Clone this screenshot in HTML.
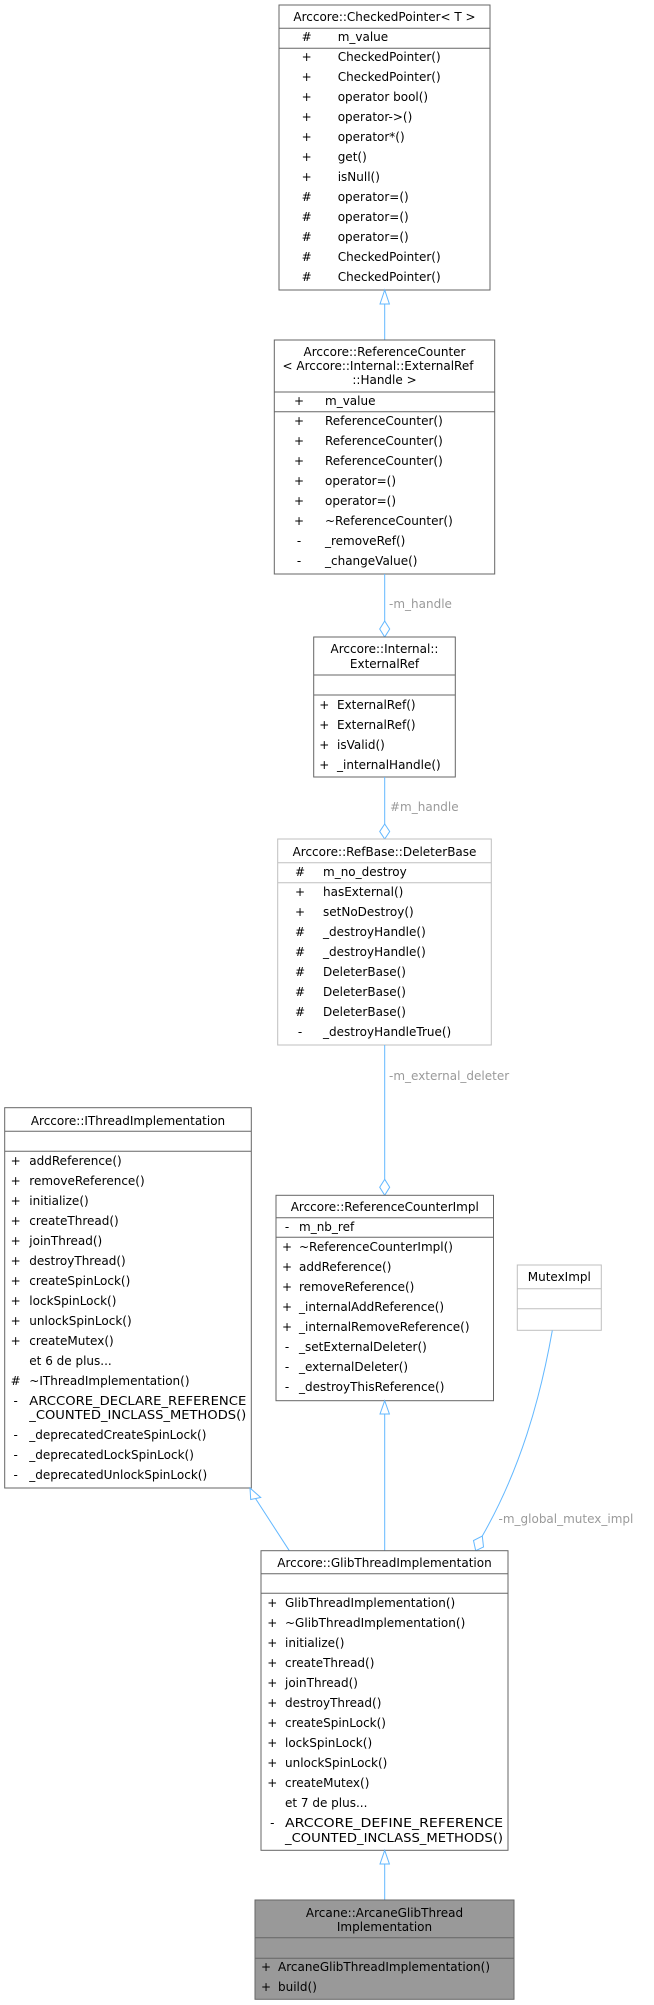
<!DOCTYPE html>
<html><head><meta charset="utf-8">
<style>
html,body{margin:0;padding:0;background:#fff;}
svg{display:block;}
text{font-family:"DejaVu Sans","Liberation Sans",sans-serif;font-size:12px;fill:#000;}
.lbl{fill:#9a9a9a;}
.b{fill:#fff;stroke:#666;stroke-width:1;}
.lb{fill:#fff;stroke:#bfbfbf;stroke-width:1;}
.s{stroke:#666;stroke-width:1;}
.ls{stroke:#bfbfbf;stroke-width:1;}
.e{stroke:#63b8ff;stroke-width:1;fill:none;}
.ah{stroke:#63b8ff;stroke-width:1;fill:#fff;}
.m{text-anchor:middle;}
</style></head>
<body>
<svg width="654" height="2005" viewBox="0 0 654 2005" xmlns="http://www.w3.org/2000/svg">

<!-- CheckedPointer -->
<rect class="b" x="279" y="5" width="211" height="285"/>
<line class="s" x1="279" y1="28.3" x2="490" y2="28.3"/>
<line class="s" x1="279" y1="48.3" x2="490" y2="48.3"/>
<text class="m" x="384.5" y="21">Arccore::CheckedPointer&lt; T &gt;</text>
<g>
<text class="m" x="306.7" y="41">#</text><text x="337.7" y="41">m_value</text>
<text class="m" x="306.7" y="61">+</text><text x="337.7" y="61">CheckedPointer()</text>
<text class="m" x="306.7" y="81">+</text><text x="337.7" y="81">CheckedPointer()</text>
<text class="m" x="306.7" y="101">+</text><text x="337.7" y="101">operator bool()</text>
<text class="m" x="306.7" y="121">+</text><text x="337.7" y="121">operator-&gt;()</text>
<text class="m" x="306.7" y="141">+</text><text x="337.7" y="141">operator*()</text>
<text class="m" x="306.7" y="161">+</text><text x="337.7" y="161">get()</text>
<text class="m" x="306.7" y="181">+</text><text x="337.7" y="181">isNull()</text>
<text class="m" x="306.7" y="201">#</text><text x="337.7" y="201">operator=()</text>
<text class="m" x="306.7" y="221">#</text><text x="337.7" y="221">operator=()</text>
<text class="m" x="306.7" y="241">#</text><text x="337.7" y="241">operator=()</text>
<text class="m" x="306.7" y="261">#</text><text x="337.7" y="261">CheckedPointer()</text>
<text class="m" x="306.7" y="281">#</text><text x="337.7" y="281">CheckedPointer()</text>
</g>

<!-- edge CP -> RC -->
<line class="e" x1="384.7" y1="304" x2="384.7" y2="340"/>
<polygon class="ah" points="384.7,290 380,304 389.4,304"/>

<!-- ReferenceCounter -->
<rect class="b" x="274.3" y="340" width="220.4" height="234"/>
<line class="s" x1="274.3" y1="392" x2="494.7" y2="392"/>
<line class="s" x1="274.3" y1="411.7" x2="494.7" y2="411.7"/>
<text class="m" x="384.5" y="356">Arccore::ReferenceCounter</text>
<text x="282.5" y="370">&lt; Arccore::Internal::ExternalRef</text>
<text class="m" x="384.5" y="384">::Handle &gt;</text>
<text class="m" x="299" y="405">+</text><text x="325" y="405">m_value</text>
<text class="m" x="299" y="425">+</text><text x="325" y="425">ReferenceCounter()</text>
<text class="m" x="299" y="445">+</text><text x="325" y="445">ReferenceCounter()</text>
<text class="m" x="299" y="465">+</text><text x="325" y="465">ReferenceCounter()</text>
<text class="m" x="299" y="485">+</text><text x="325" y="485">operator=()</text>
<text class="m" x="299" y="505">+</text><text x="325" y="505">operator=()</text>
<text class="m" x="299" y="525">+</text><text x="325" y="525">~ReferenceCounter()</text>
<text class="m" x="299" y="545">-</text><text x="325" y="545">_removeRef()</text>
<text class="m" x="299" y="565">-</text><text x="325" y="565">_changeValue()</text>

<!-- edge ExternalRef -> RC (m_handle) -->
<line class="e" x1="384.7" y1="574" x2="384.7" y2="621"/>
<polygon class="ah" points="384.7,621 389.7,629 384.7,637 379.7,629"/>
<text class="lbl" x="389" y="608">-m_handle</text>

<!-- ExternalRef -->
<rect class="b" x="313.7" y="637" width="141.6" height="140"/>
<line class="s" x1="313.7" y1="675" x2="455.3" y2="675"/>
<line class="s" x1="313.7" y1="695" x2="455.3" y2="695"/>
<text class="m" x="384.5" y="653">Arccore::Internal::</text>
<text class="m" x="384.5" y="668">ExternalRef</text>
<text class="m" x="324.3" y="709">+</text><text x="337" y="709">ExternalRef()</text>
<text class="m" x="324.3" y="729">+</text><text x="337" y="729">ExternalRef()</text>
<text class="m" x="324.3" y="749">+</text><text x="337" y="749">isValid()</text>
<text class="m" x="324.3" y="769">+</text><text x="337" y="769">_internalHandle()</text>

<!-- edge DeleterBase -> ExternalRef (#m_handle) -->
<line class="e" x1="384.7" y1="777" x2="384.7" y2="824"/>
<polygon class="ah" points="384.7,824 389.7,831.5 384.7,839 379.7,831.5"/>
<text class="lbl" x="390" y="811">#m_handle</text>

<!-- DeleterBase -->
<rect class="lb" x="277.7" y="839" width="213.6" height="206"/>
<line class="ls" x1="277.7" y1="862.7" x2="491.3" y2="862.7"/>
<line class="ls" x1="277.7" y1="882.7" x2="491.3" y2="882.7"/>
<text class="m" x="384.5" y="856">Arccore::RefBase::DeleterBase</text>
<text class="m" x="300" y="876">#</text><text x="323" y="876">m_no_destroy</text>
<text class="m" x="300" y="896">+</text><text x="323" y="896">hasExternal()</text>
<text class="m" x="300" y="916">+</text><text x="323" y="916">setNoDestroy()</text>
<text class="m" x="300" y="936">#</text><text x="323" y="936">_destroyHandle()</text>
<text class="m" x="300" y="956">#</text><text x="323" y="956">_destroyHandle()</text>
<text class="m" x="300" y="976">#</text><text x="323" y="976">DeleterBase()</text>
<text class="m" x="300" y="996">#</text><text x="323" y="996">DeleterBase()</text>
<text class="m" x="300" y="1016">#</text><text x="323" y="1016">DeleterBase()</text>
<text class="m" x="300" y="1036">-</text><text x="323" y="1036">_destroyHandleTrue()</text>

<!-- edge RCImpl -> DeleterBase -->
<line class="e" x1="384.7" y1="1045" x2="384.7" y2="1179.3"/>
<polygon class="ah" points="384.7,1179.3 389.7,1187.2 384.7,1195.3 379.7,1187.2"/>
<text class="lbl" x="389" y="1080">-m_external_deleter</text>

<!-- IThreadImplementation -->
<rect class="b" x="4.7" y="1107.7" width="246.6" height="380.3"/>
<line class="s" x1="4.7" y1="1131.3" x2="251.3" y2="1131.3"/>
<line class="s" x1="4.7" y1="1151.3" x2="251.3" y2="1151.3"/>
<text class="m" x="128" y="1125">Arccore::IThreadImplementation</text>
<text class="m" x="15.7" y="1165">+</text><text x="29.3" y="1165">addReference()</text>
<text class="m" x="15.7" y="1185">+</text><text x="29.3" y="1185">removeReference()</text>
<text class="m" x="15.7" y="1205">+</text><text x="29.3" y="1205">initialize()</text>
<text class="m" x="15.7" y="1225">+</text><text x="29.3" y="1225">createThread()</text>
<text class="m" x="15.7" y="1245">+</text><text x="29.3" y="1245">joinThread()</text>
<text class="m" x="15.7" y="1265">+</text><text x="29.3" y="1265">destroyThread()</text>
<text class="m" x="15.7" y="1285">+</text><text x="29.3" y="1285">createSpinLock()</text>
<text class="m" x="15.7" y="1305">+</text><text x="29.3" y="1305">lockSpinLock()</text>
<text class="m" x="15.7" y="1325">+</text><text x="29.3" y="1325">unlockSpinLock()</text>
<text class="m" x="15.7" y="1345">+</text><text x="29.3" y="1345">createMutex()</text>
<text x="29.3" y="1365">et 6 de plus...</text>
<text class="m" x="15.7" y="1385">#</text><text x="29.3" y="1385">~IThreadImplementation()</text>
<text class="m" x="15.7" y="1405">-</text><text x="29.3" y="1405" textLength="217" lengthAdjust="spacingAndGlyphs">ARCCORE_DECLARE_REFERENCE</text>
<text x="29.3" y="1419" textLength="217" lengthAdjust="spacingAndGlyphs">_COUNTED_INCLASS_METHODS()</text>
<text class="m" x="15.7" y="1439">-</text><text x="29.3" y="1439">_deprecatedCreateSpinLock()</text>
<text class="m" x="15.7" y="1459">-</text><text x="29.3" y="1459">_deprecatedLockSpinLock()</text>
<text class="m" x="15.7" y="1479">-</text><text x="29.3" y="1479">_deprecatedUnlockSpinLock()</text>

<!-- ReferenceCounterImpl -->
<rect class="b" x="276" y="1195.3" width="217.5" height="205.4"/>
<line class="s" x1="276" y1="1217.7" x2="493.5" y2="1217.7"/>
<line class="s" x1="276" y1="1237.3" x2="493.5" y2="1237.3"/>
<text class="m" x="384.75" y="1211">Arccore::ReferenceCounterImpl</text>
<text class="m" x="287" y="1231">-</text><text x="299" y="1231">m_nb_ref</text>
<text class="m" x="287" y="1251">+</text><text x="299" y="1251">~ReferenceCounterImpl()</text>
<text class="m" x="287" y="1271">+</text><text x="299" y="1271">addReference()</text>
<text class="m" x="287" y="1291">+</text><text x="299" y="1291">removeReference()</text>
<text class="m" x="287" y="1311">+</text><text x="299" y="1311">_internalAddReference()</text>
<text class="m" x="287" y="1331">+</text><text x="299" y="1331">_internalRemoveReference()</text>
<text class="m" x="287" y="1351">-</text><text x="299" y="1351">_setExternalDeleter()</text>
<text class="m" x="287" y="1371">-</text><text x="299" y="1371">_externalDeleter()</text>
<text class="m" x="287" y="1391">-</text><text x="299" y="1391">_destroyThisReference()</text>

<!-- MutexImpl -->
<rect class="lb" x="517.3" y="1265" width="84" height="65.3"/>
<line class="ls" x1="517.3" y1="1288.7" x2="601.3" y2="1288.7"/>
<line class="ls" x1="517.3" y1="1308.7" x2="601.3" y2="1308.7"/>
<text class="m" x="559.3" y="1281">MutexImpl</text>

<!-- edges into Glib -->
<line class="e" x1="255.5" y1="1498.5" x2="289.3" y2="1550.7"/>
<polygon class="ah" points="250,1488 250.7,1499.5 260.7,1497.5"/>
<line class="e" x1="384.7" y1="1414" x2="384.7" y2="1550.7"/>
<polygon class="ah" points="384.7,1400.7 380,1414 389.4,1414"/>
<path class="e" d="M552.3,1330.5 C540,1400 520,1470 482.3,1536"/>
<polygon class="ah" points="482.3,1536 483.5,1547 475.7,1550.7 473.5,1540.5"/>
<text class="lbl" x="498.5" y="1523">-m_global_mutex_impl</text>

<!-- GlibThreadImplementation -->
<rect class="b" x="261" y="1550.7" width="247" height="299.6"/>
<line class="s" x1="261" y1="1573.7" x2="508" y2="1573.7"/>
<line class="s" x1="261" y1="1593.3" x2="508" y2="1593.3"/>
<text class="m" x="384.5" y="1567">Arccore::GlibThreadImplementation</text>
<text class="m" x="272.3" y="1607">+</text><text x="285" y="1607">GlibThreadImplementation()</text>
<text class="m" x="272.3" y="1627">+</text><text x="285" y="1627">~GlibThreadImplementation()</text>
<text class="m" x="272.3" y="1647">+</text><text x="285" y="1647">initialize()</text>
<text class="m" x="272.3" y="1667">+</text><text x="285" y="1667">createThread()</text>
<text class="m" x="272.3" y="1687">+</text><text x="285" y="1687">joinThread()</text>
<text class="m" x="272.3" y="1707">+</text><text x="285" y="1707">destroyThread()</text>
<text class="m" x="272.3" y="1727">+</text><text x="285" y="1727">createSpinLock()</text>
<text class="m" x="272.3" y="1747">+</text><text x="285" y="1747">lockSpinLock()</text>
<text class="m" x="272.3" y="1767">+</text><text x="285" y="1767">unlockSpinLock()</text>
<text class="m" x="272.3" y="1787">+</text><text x="285" y="1787">createMutex()</text>
<text x="285" y="1807">et 7 de plus...</text>
<text class="m" x="272.3" y="1827">-</text><text x="285" y="1827" textLength="218" lengthAdjust="spacingAndGlyphs">ARCCORE_DEFINE_REFERENCE</text>
<text x="285" y="1842" textLength="218" lengthAdjust="spacingAndGlyphs">_COUNTED_INCLASS_METHODS()</text>

<!-- edge Arcane -> Glib -->
<line class="e" x1="384.7" y1="1864" x2="384.7" y2="1900"/>
<polygon class="ah" points="384.7,1850.3 380,1864 389.4,1864"/>

<!-- ArcaneGlibThreadImplementation -->
<rect x="255" y="1900" width="259" height="99.3" fill="#999999" stroke="#666" stroke-width="1"/>
<line class="s" x1="255" y1="1937.7" x2="514" y2="1937.7"/>
<line class="s" x1="255" y1="1958.3" x2="514" y2="1958.3"/>
<text class="m" x="384.5" y="1917">Arcane::ArcaneGlibThread</text>
<text class="m" x="384.5" y="1931">Implementation</text>
<text class="m" x="266" y="1971">+</text><text x="278" y="1971">ArcaneGlibThreadImplementation()</text>
<text class="m" x="266" y="1991">+</text><text x="278" y="1991">build()</text>
</svg>
</body></html>
